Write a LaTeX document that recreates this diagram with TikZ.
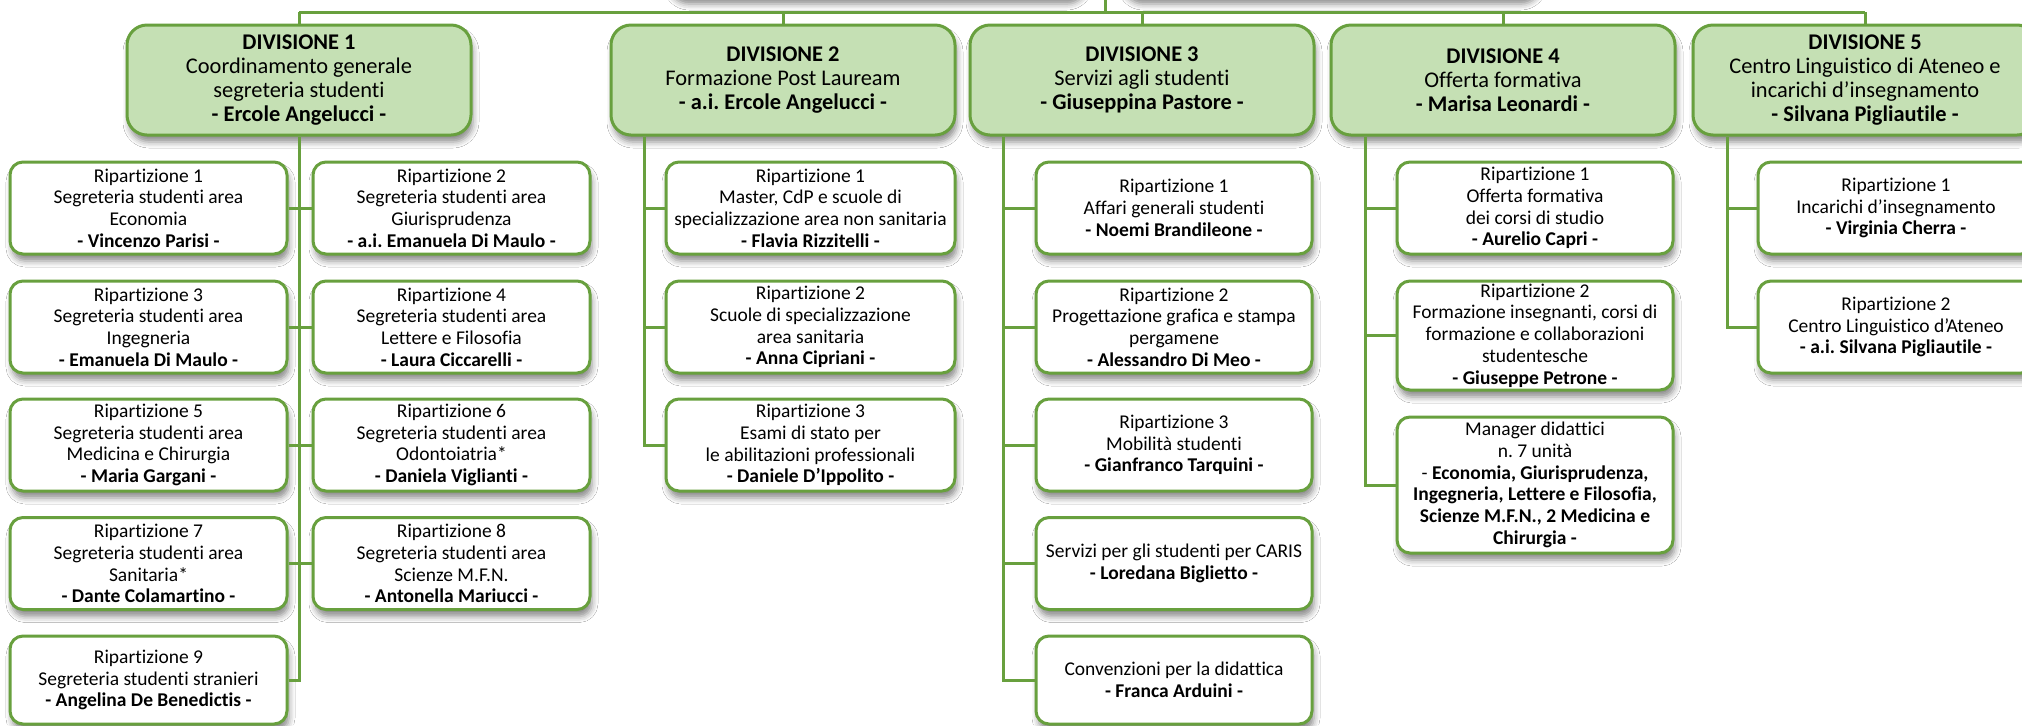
\documentclass[tikz,border=0pt]{standalone}
\usepackage{fontspec}
\setmainfont{Carlito}[Ligatures=NoCommon]
\frenchspacing
\usetikzlibrary{shadows.blur}
\definecolor{gline}{RGB}{104,160,62}
\definecolor{gfill}{RGB}{197,224,180}
\tikzset{
  shad/.style={blur shadow={shadow xshift=1pt, shadow yshift=-3.5pt, shadow blur radius=3pt, shadow opacity=45}},
  base/.style={draw=gline, line width=1.5pt, align=center, inner sep=0pt, shad},
  divbox/.style={base, fill=gfill, rounded corners=10pt, minimum width=172pt, minimum height=55pt, font=\fontsize{11.2}{12}\selectfont},
  subbox/.style={base, fill=white, rounded corners=6.5pt, minimum height=46pt, font=\fontsize{9.75}{10.85}\selectfont},
  colA/.style={subbox, minimum width=138.5pt},
  colW/.style={subbox, minimum width=144.5pt},
  colN/.style={subbox, minimum width=138pt},
  topbox/.style={fill=white, draw=none, rounded corners=10pt, minimum width=209pt, minimum height=100pt, shad},
  conn/.style={gline, line width=1.5pt},
}
\begin{document}
\begin{tikzpicture}[x=0.5pt,y=-0.5pt]
\useasboundingbox (0,0) rectangle (2022,725);
\fill[white] (0,0) rectangle (2022,725);
% partially visible boxes above
\node[topbox] (top1) at (876,-103) {};
\node[topbox] (top2) at (1330,-103) {};
% divisions
\node[divbox] (d1) at (299,80) {\textbf{DIVISIONE 1}\\Coordinamento generale\\segreteria studenti\\\textbf{- Ercole Angelucci -}};
\node[divbox] (d2) at (783,80) {\textbf{DIVISIONE 2}\\Formazione Post Lauream\\\textbf{- a.i. Ercole Angelucci -}};
\node[divbox] (d3) at (1142,80) {\textbf{DIVISIONE 3}\\Servizi agli studenti\\\textbf{- Giuseppina Pastore -}};
\node[divbox] (d4) at (1503,80) {\textbf{DIVISIONE 4}\\Offerta formativa\\\textbf{- Marisa Leonardi -}};
\node[divbox] (d5) at (1865,80) {\textbf{DIVISIONE 5}\\Centro Linguistico di Ateneo e\\incarichi d’insegnamento\\\textbf{- Silvana Pigliautile -}};
% division 1
\node[colA] (r1) at (148.5,208) {Ripartizione 1\\Segreteria studenti area\\Economia\\\textbf{- Vincenzo Parisi -}};
\node[colA] (r2) at (451.5,208) {Ripartizione 2\\Segreteria studenti area\\Giurisprudenza\\\textbf{- a.i. Emanuela Di Maulo -}};
\node[colA] (r3) at (148.5,327) {Ripartizione 3\\Segreteria studenti area\\Ingegneria\\\textbf{- Emanuela Di Maulo -}};
\node[colA] (r4) at (451.5,327) {Ripartizione 4\\Segreteria studenti area\\Lettere e Filosofia\\\textbf{- Laura Ciccarelli -}};
\node[colA] (r5) at (148.5,445) {Ripartizione 5\\Segreteria studenti area\\Medicina e Chirurgia\\\textbf{- Maria Gargani -}};
\node[colA] (r6) at (451.5,445) {Ripartizione 6\\Segreteria studenti area\\Odontoiatria*\\\textbf{- Daniela Viglianti -}};
\node[colA] (r7) at (148.5,563.5) {Ripartizione 7\\Segreteria studenti area\\Sanitaria*\\\textbf{- Dante Colamartino -}};
\node[colA] (r8) at (451.5,563.5) {Ripartizione 8\\Segreteria studenti area\\Scienze M.F.N.\\\textbf{- Antonella Mariucci -}};
\node[colA, minimum height=44pt] (r9) at (148.5,680) {Ripartizione 9\\Segreteria studenti stranieri\\\textbf{- Angelina De Benedictis -}};
% division 2
\node[colW] (s21) at (810.5,208) {Ripartizione 1\\Master, CdP e scuole di\\specializzazione area non sanitaria\\\textbf{- Flavia Rizzitelli -}};
\node[colW] (s22) at (810.5,327) {Ripartizione 2\\Scuole di specializzazione\\area sanitaria\\\textbf{- Anna Cipriani -}};
\node[colW] (s23) at (810.5,445) {Ripartizione 3\\Esami di stato per\\le abilitazioni professionali\\\textbf{- Daniele D’Ippolito -}};
% division 3
\node[colN] (s31) at (1174,208) {Ripartizione 1\\Affari generali studenti\\\textbf{- Noemi Brandileone -}};
\node[colN] (s32) at (1174,327) {Ripartizione 2\\Progettazione grafica e stampa\\pergamene\\\textbf{- Alessandro Di Meo -}};
\node[colN] (s33) at (1174,445) {Ripartizione 3\\Mobilità studenti\\\textbf{- Gianfranco Tarquini -}};
\node[colN] (s34) at (1174,563.5) {Servizi per gli studenti per CARIS\\\textbf{- Loredana Biglietto -}};
\node[colN, minimum height=44pt] (s35) at (1174,680) {Convenzioni per la didattica\\\textbf{- Franca Arduini -}};
% division 4
\node[colN] (s41) at (1535,208) {Ripartizione 1\\Offerta formativa\\dei corsi di studio\\\textbf{- Aurelio Capri -}};
\node[colN, minimum height=54.5pt] (s42) at (1535,335.5) {Ripartizione 2\\Formazione insegnanti, corsi di\\formazione e collaborazioni\\studentesche\\\textbf{- Giuseppe Petrone -}};
\node[colN, minimum height=68pt] (s43) at (1535,485) {Manager didattici\\n. 7 unità\\- \textbf{Economia, Giurisprudenza,}\\\textbf{Ingegneria, Lettere e Filosofia,}\\\textbf{Scienze M.F.N., 2 Medicina e}\\\textbf{Chirurgia -}};
% division 5
\node[colN] (s51) at (1896,208) {Ripartizione 1\\Incarichi d’insegnamento\\\textbf{- Virginia Cherra -}};
\node[colN] (s52) at (1896,327) {Ripartizione 2\\Centro Linguistico d’Ateneo\\\textbf{- a.i. Silvana Pigliautile -}};
% connectors
\coordinate (topc) at (1105,0);
\coordinate (bus) at (1105,12);
\draw[conn] (topc) -- (bus);
\draw[conn] (d1.north |- bus) -- (d5.north |- bus);
\foreach \n in {d1,d2,d3,d4,d5} \draw[conn] (\n.north |- bus) -- (\n.north);
% division 1 tree
\draw[conn] (d1.south) -- (d1.south |- r9.east) -- (r9.east);
\draw[conn] (r1.east) -- (r2.west);
\draw[conn] (r3.east) -- (r4.west);
\draw[conn] (r5.east) -- (r6.west);
\draw[conn] (r7.east) -- (r8.west);
% division 2 tree
\coordinate (v2) at ([xshift=17.5pt]d2.south west);
\draw[conn] (v2) |- (s23.west);
\draw[conn] (v2 |- s21.west) -- (s21.west);
\draw[conn] (v2 |- s22.west) -- (s22.west);
% division 3 tree
\coordinate (v3) at ([xshift=17.5pt]d3.south west);
\draw[conn] (v3) |- (s35.west);
\foreach \n in {s31,s32,s33,s34} \draw[conn] (v3 |- \n.west) -- (\n.west);
% division 4 tree
\coordinate (v4) at ([xshift=18pt]d4.south west);
\draw[conn] (v4) |- (s43.west);
\foreach \n in {s41,s42} \draw[conn] (v4 |- \n.west) -- (\n.west);
% division 5 tree
\coordinate (v5) at ([xshift=18pt]d5.south west);
\draw[conn] (v5) |- (s52.west);
\draw[conn] (v5 |- s51.west) -- (s51.west);
\end{tikzpicture}
\end{document}
